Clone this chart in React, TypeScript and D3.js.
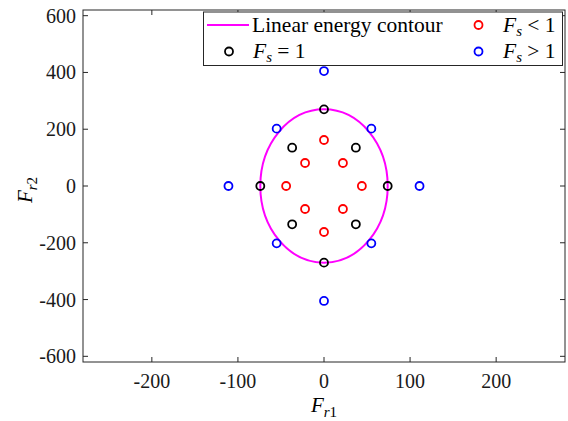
import React from "react";
import * as d3 from "d3";

// points, [Fr1, Fr2]
const fsEqual1: [number, number][] = [
  [0, 270], [0, -270], [-74, 0], [74, 0],
  [-37, 135], [37, 135], [-37, -135], [37, -135],
];
const fsLess1: [number, number][] = [
  [0, 162], [0, -162], [-44, 0], [44, 0],
  [-22, 81], [22, 81], [-22, -81], [22, -81],
];
const fsGreater1: [number, number][] = [
  [0, 405], [0, -405], [-111, 0], [111, 0],
  [-55, 202], [55, 202], [-55, -202], [55, -202],
];
// linear energy contour semi-axes
const contourA = 74;
const contourB = 270;

const xTicks = [-200, -100, 0, 100, 200];
const yTicks = [-600, -400, -200, 0, 200, 400, 600];

const W = 568;
const H = 421;
const margin = { top: 10, right: 3, bottom: 59, left: 83 };
const serif = { fontFamily: "'Liberation Serif', 'DejaVu Serif', serif" };
const axisColor = "#262626";

const App = () => {
  const x = d3.scaleLinear().domain([-280, 280]).range([margin.left, W - margin.right]);
  const y = d3.scaleLinear().domain([-620, 620]).range([H - margin.bottom, margin.top]);
  const [x0, x1] = x.range();
  const [y0, y1] = y.range();
  const tick = 5;

  const markers = (pts: [number, number][], color: string) =>
    pts.map((p, i) => (
      <circle key={color + i} cx={x(p[0])} cy={y(p[1])} r={4} fill="none" stroke={color} strokeWidth={1.8} />
    ));

  const lgX = 203.5, lgY = 12, lgW = 359, lgH = 53.5;

  return (
    <svg width={W} height={H} style={{ position: "absolute", left: 0, top: 0, ...serif }}>
      <rect width={W} height={H} fill="white" />
      {/* contour */}
      <ellipse
        cx={x(0)}
        cy={y(0)}
        rx={x(contourA) - x(0)}
        ry={y(0) - y(contourB)}
        fill="none"
        stroke="#ff00ff"
        strokeWidth={2}
      />
      {markers(fsEqual1, "#000000")}
      {markers(fsLess1, "#ff0000")}
      {markers(fsGreater1, "#0000ff")}

      {/* axes box */}
      <rect x={x0} y={y1} width={x1 - x0} height={y0 - y1} fill="none" stroke={axisColor} strokeWidth={1} />
      {xTicks.map((t) => (
        <g key={"x" + t}>
          <line x1={x(t)} x2={x(t)} y1={y0} y2={y0 - tick} stroke={axisColor} />
          <line x1={x(t)} x2={x(t)} y1={y1} y2={y1 + tick} stroke={axisColor} />
          <text x={x(t)} y={y0 + 26} textAnchor="middle" fontSize={20} fill="#1a1a1a" style={serif}>
            {t}
          </text>
        </g>
      ))}
      {yTicks.map((t) => (
        <g key={"y" + t}>
          <line x1={x0} x2={x0 + tick} y1={y(t)} y2={y(t)} stroke={axisColor} />
          <line x1={x1} x2={x1 - tick} y1={y(t)} y2={y(t)} stroke={axisColor} />
          <text x={x0 - 7} y={y(t) + 7} textAnchor="end" fontSize={20} fill="#1a1a1a" style={serif}>
            {t}
          </text>
        </g>
      ))}

      {/* axis labels */}
      <text x={x(0)} y={412} textAnchor="middle" fontSize={21} style={serif}>
        <tspan fontStyle="italic">F</tspan>
        <tspan fontSize={15} dy={5} fontStyle="italic">r</tspan>
        <tspan fontSize={15}>1</tspan>
      </text>
      <text transform={`translate(32, ${y(0) + 4}) rotate(-90)`} textAnchor="middle" fontSize={21} style={serif}>
        <tspan fontStyle="italic">F</tspan>
        <tspan fontSize={15} dy={5} fontStyle="italic">r</tspan>
        <tspan fontSize={15}>2</tspan>
      </text>

      {/* legend */}
      <rect x={lgX} y={lgY} width={lgW} height={lgH} fill="white" stroke={axisColor} strokeWidth={1} />
      <line x1={207} x2={249} y1={25} y2={25} stroke="#ff00ff" strokeWidth={2} />
      <text x={252} y={32} fontSize={21.5} style={serif}>Linear energy contour</text>
      <circle cx={229} cy={51.5} r={4} fill="none" stroke="#000" strokeWidth={1.8} />
      <text x={253} y={58} fontSize={21.5} style={serif}>
        <tspan fontStyle="italic">F</tspan>
        <tspan fontSize={15} dy={4} fontStyle="italic">s</tspan>
        <tspan dy={-4}> = 1</tspan>
      </text>
      <circle cx={478.5} cy={25} r={4} fill="none" stroke="#ff0000" strokeWidth={1.8} />
      <text x={503} y={32} fontSize={21.5} style={serif}>
        <tspan fontStyle="italic">F</tspan>
        <tspan fontSize={15} dy={4} fontStyle="italic">s</tspan>
        <tspan dy={-4}> &lt; 1</tspan>
      </text>
      <circle cx={478.5} cy={51.5} r={4} fill="none" stroke="#0000ff" strokeWidth={1.8} />
      <text x={503} y={58} fontSize={21.5} style={serif}>
        <tspan fontStyle="italic">F</tspan>
        <tspan fontSize={15} dy={4} fontStyle="italic">s</tspan>
        <tspan dy={-4}> &gt; 1</tspan>
      </text>
    </svg>
  );
};

export default App;
